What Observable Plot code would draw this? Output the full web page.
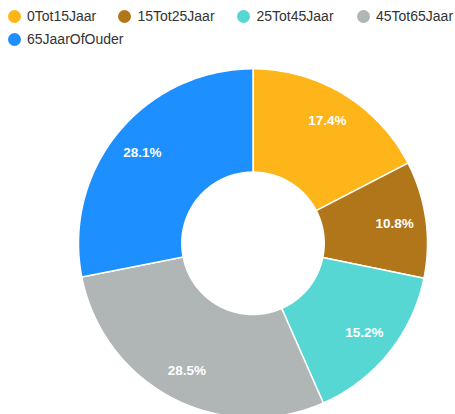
<!DOCTYPE html>
<html>
<head>
<meta charset="utf-8">
<script src="https://cdn.jsdelivr.net/npm/d3@7"></script>
<script src="https://cdn.jsdelivr.net/npm/@observablehq/plot@0.6"></script>
<style>
  html, body { margin: 0; padding: 0; background: #fff; }
  body { width: 455px; height: 414px; overflow: hidden; font-family: "Liberation Sans", Arial, sans-serif; }
  #legend { height: 55px; position: relative; }
  .item { position: absolute; display: flex; align-items: center; height: 20px; font-size: 14px; color: #333; white-space: nowrap; }
  .sw { width: 13px; height: 13px; border-radius: 50%; margin-right: 6.5px; flex: none; }
  svg { display: block; }
</style>
</head>
<body>
<div id="legend"></div>
<div id="chart"></div>
<script>
const categories = ["0Tot15Jaar", "15Tot25Jaar", "25Tot45Jaar", "45Tot65Jaar", "65JaarOfOuder"];
const values = [17.4, 10.8, 15.2, 28.5, 28.1];
const colors = ["#FEB51A", "#B2761A", "#57D7D3", "#AFB6B5", "#1E8FFF"];
const labels = ["17.4%", "10.8%", "15.2%", "28.5%", "28.1%"];

// legend layout (left, top of each item)
const legendPos = [[7.5, 6], [118, 6], [237, 6], [356.5, 6], [7.5, 29]];
const legend = document.getElementById("legend");
categories.forEach((c, i) => {
  const it = document.createElement("div");
  it.className = "item";
  it.style.left = legendPos[i][0] + "px";
  it.style.top = legendPos[i][1] + "px";
  const sw = document.createElement("span");
  sw.className = "sw";
  sw.style.background = colors[i];
  const tx = document.createElement("span");
  tx.textContent = c;
  it.appendChild(sw); it.appendChild(tx);
  legend.appendChild(it);
});

const innerRatio = 0.408;
const labelRatio = 0.82;
const arcs = d3.pie().sort(null).value(d => d.value)(categories.map((key, i) => ({key, value: values[i], label: labels[i]})));

const polys = [];
for (const a of arcs) {
  const n = Math.max(2, Math.ceil((a.endAngle - a.startAngle) / (Math.PI / 180)));
  const outer = [], inner = [];
  for (let k = 0; k <= n; k++) {
    const t = a.startAngle + (a.endAngle - a.startAngle) * k / n;
    outer.push({key: a.data.key, x: Math.sin(t), y: Math.cos(t)});
    inner.push({key: a.data.key, x: innerRatio * Math.sin(t), y: innerRatio * Math.cos(t)});
  }
  polys.push(...outer, ...inner.reverse());
}
const labelPts = arcs.map(a => {
  const m = (a.startAngle + a.endAngle) / 2;
  return {label: a.data.label, x: labelRatio * Math.sin(m), y: labelRatio * Math.cos(m)};
});

const cx = 252.5, cy = 187.8, R = 174.5;
const chart = Plot.plot({
  width: 455,
  height: 359,
  margin: 0,
  style: {fontFamily: "'Liberation Sans', Arial, sans-serif", background: "white"},
  x: {domain: [-1, 1], range: [cx - R, cx + R], axis: null},
  y: {domain: [-1, 1], range: [cy + R, cy - R], axis: null},
  color: {domain: categories, range: colors},
  marks: [
    Plot.line(polys, {x: "x", y: "y", z: "key", fill: "key", stroke: "white", strokeWidth: 1.5, curve: "linear-closed", strokeLinejoin: "round"}),
    Plot.text(labelPts, {x: "x", y: "y", text: "label", fill: "white", fontSize: 13.5, fontWeight: "bold"})
  ]
});
document.getElementById("chart").appendChild(chart);
</script>
</body>
</html>
